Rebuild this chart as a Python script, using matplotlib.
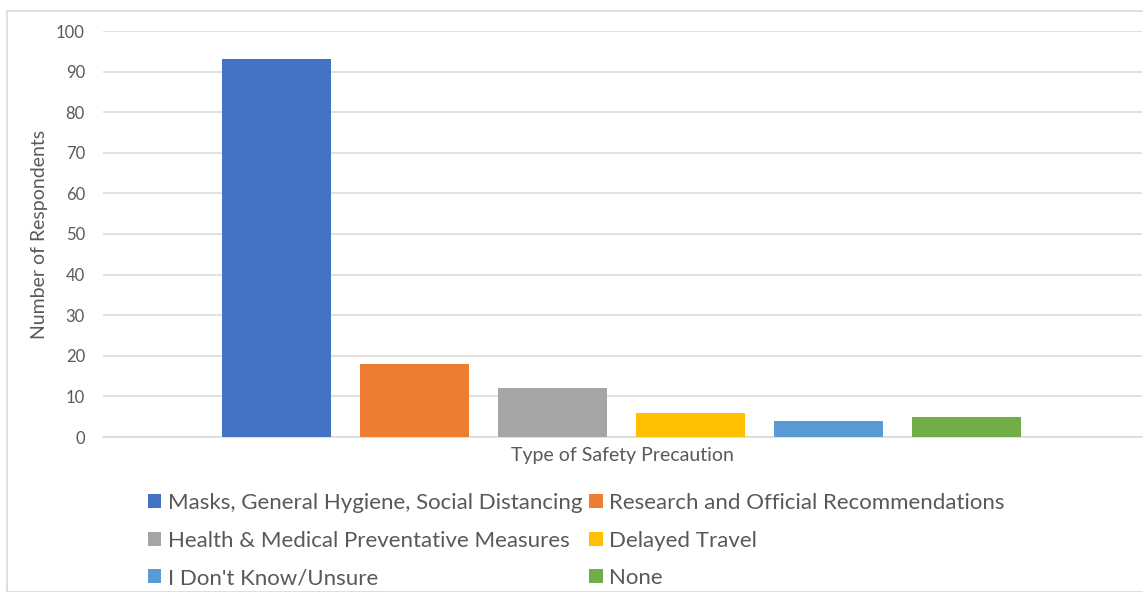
import matplotlib.pyplot as plt
from matplotlib.patches import Rectangle, Patch

categories = ["Masks, General Hygiene, Social Distancing",
              "Research and Official Recommendations",
              "Health & Medical Preventative Measures",
              "Delayed Travel",
              "I Don't Know/Unsure",
              "None"]
respondents = [93, 18, 12, 6, 4, 5]
colors = ["#4472C4", "#ED7D31", "#A5A5A5", "#FFC000", "#5B9BD5", "#70AD47"]
yticks = [0, 10, 20, 30, 40, 50, 60, 70, 80, 90, 100]

plt.rcParams['font.family'] = ['Lato', 'DejaVu Sans']
text_color = "#595959"
grid_color = "#d9d9d9"

fig = plt.figure(figsize=(11.43, 5.92), dpi=100)

# chart frame
fig.patches.append(Rectangle((7 / 1143, 0), 1.0, 1 - 11 / 592, transform=fig.transFigure,
                             fill=False, edgecolor=grid_color, linewidth=1.2))

ax = fig.add_axes([103 / 1143, 1 - 437 / 592, 1039 / 1143, 406 / 592])

x = list(range(len(categories)))
bars = ax.bar(x, respondents, width=0.79, color=colors, zorder=3)

ax.set_xlim(-1.26, 6.27)
ax.set_ylim(0, 100)
ax.set_yticks(yticks)
ax.set_xticks([])
ax.yaxis.grid(True, color=grid_color, linewidth=1.1, zorder=0)
for side in ["top", "right", "left"]:
    ax.spines[side].set_visible(False)
ax.spines["bottom"].set_color(grid_color)
ax.spines["bottom"].set_linewidth(1.1)
ax.tick_params(axis='y', length=0, labelsize=12, labelcolor=text_color, pad=13)

ax.set_xlabel("Type of Safety Precaution", fontsize=14, color=text_color, labelpad=7)
ax.set_ylabel("Number of Respondents", fontsize=14, color=text_color, labelpad=6)

# legend rows read left to right, so order handles by column
order = [0, 2, 4, 1, 3, 5]
handles = [Patch(facecolor=colors[i]) for i in order]
labels = [categories[i] for i in order]
fig.legend(handles, labels, ncol=2, loc="upper left", bbox_to_anchor=(128 / 1143, 1 - 473 / 592),
           frameon=False, fontsize=16, labelcolor=text_color,
           handlelength=0.6, handleheight=0.6, handletextpad=0.3,
           columnspacing=0.3, labelspacing=0.79)

fig.savefig("out.png", dpi=100)
